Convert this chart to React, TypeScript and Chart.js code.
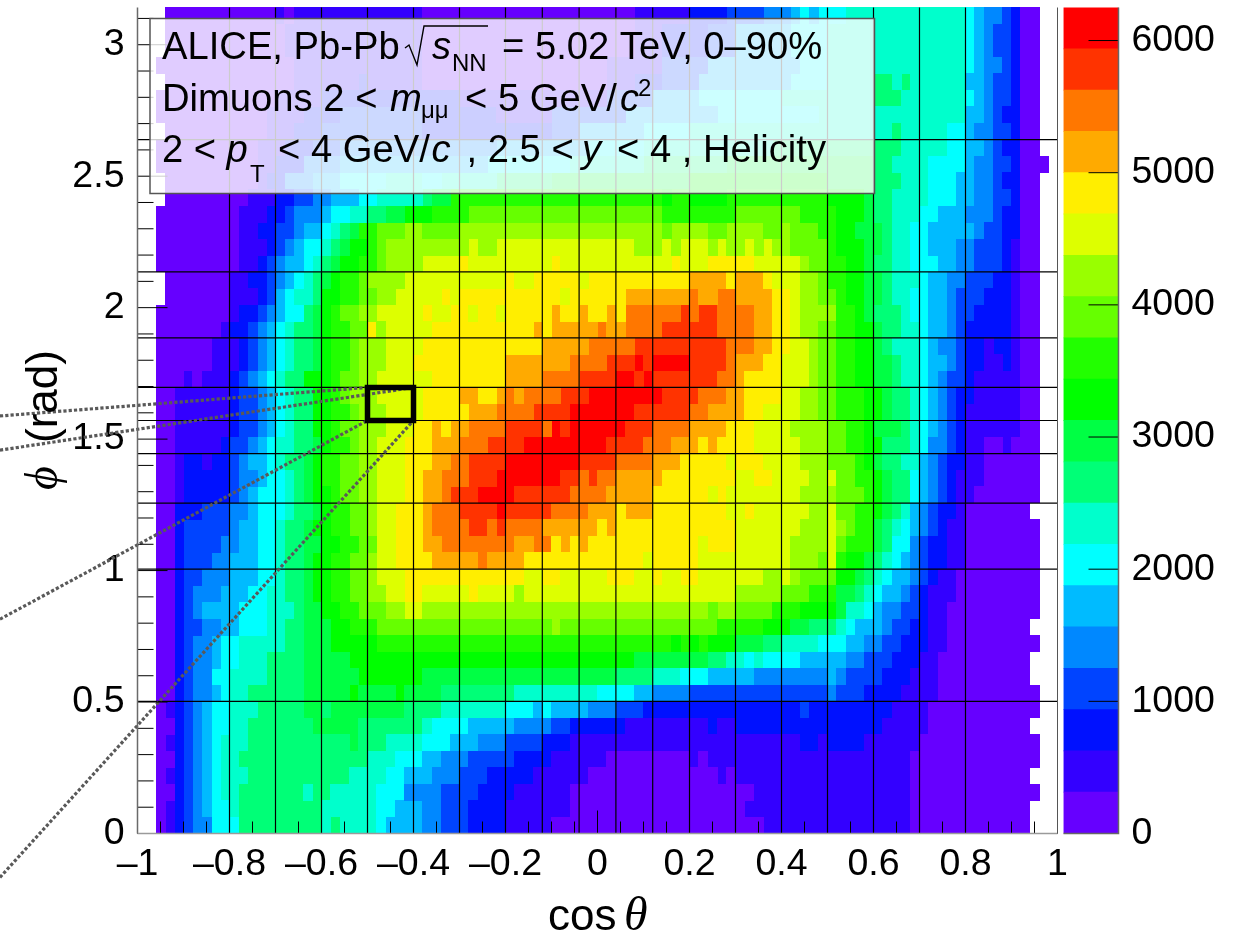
import React, { useEffect, useRef } from "react";
import { Chart, registerables } from "chart.js";

Chart.register(...registerables);

const PHI_MAX = Math.PI;
const COLUMN_COUNT = 100;
const ROW_COUNT = 50;
const Z_MAX = 6250;
const Z_STEP = 312.5;

const LEVEL_COLORS = [
  "#6600ff", "#3300ff", "#0011ff", "#0044ff", "#0088ff",
  "#00bbff", "#00ffff", "#00ffcc", "#00ff77", "#00ff44",
  "#00ff00", "#22ff00", "#66ff00", "#99ff00", "#ddff00",
  "#ffee00", "#ffaa00", "#ff7700", "#ff3300", "#ff0000",
];

const Z_TICKS = [0, 1000, 2000, 3000, 4000, 5000, 6000];
const COS_TICKS = [
  -1, -0.95, -0.9, -0.85, -0.8, -0.75, -0.7, -0.65, -0.6, -0.55, -0.5, -0.45, -0.4, -0.35, -0.3, -0.25, -0.2, -0.15, -0.1, -0.05,
  0, 0.05, 0.1, 0.15, 0.2, 0.25, 0.3, 0.35, 0.4, 0.45, 0.5, 0.55, 0.6, 0.65, 0.7, 0.75, 0.8, 0.85, 0.9, 0.95, 1,
];
const PHI_TICKS = [
  0, 0.1, 0.2, 0.3, 0.4, 0.5, 0.6, 0.7, 0.8, 0.9, 1, 1.1, 1.2, 1.3, 1.4, 1.5,
  1.6, 1.7, 1.8, 1.9, 2, 2.1, 2.2, 2.3, 2.4, 2.5, 2.6, 2.7, 2.8, 2.9, 3, 3.1,
];
const GRID_COS = [-0.8, -0.7, -0.6, -0.5, -0.4, -0.3, -0.2, -0.12, -0.04, 0.04, 0.12, 0.2, 0.3, 0.4, 0.5, 0.6, 0.7, 0.8];
const GRID_PHI = [0.5027, 1.0053, 1.2566, 1.4451, 1.5708, 1.6965, 1.885, 2.1363, 2.6389];
const ROI_COS = [-0.5, -0.4, -0.4, -0.5, -0.5];
const ROI_PHI = [1.5708, 1.5708, 1.6965, 1.6965, 1.5708];
const CONNECTOR_A_COS = [-1.299, -0.5];
const CONNECTOR_A_PHI = [1.588, 1.6965];
const CONNECTOR_B_COS = [-1.299, -0.4];
const CONNECTOR_B_PHI = [1.458, 1.6965];
const CONNECTOR_C_COS = [-1.299, -0.5];
const CONNECTOR_C_PHI = [0.815, 1.5708];
const CONNECTOR_D_COS = [-1.299, -0.4];
const CONNECTOR_D_PHI = [-0.167, 1.5708];

// Each row, top (phi = pi) to bottom: "level:endColumn" runs; "." = empty bin.
const CELL_ROWS = [
  ".:3 0:15 1:16 0:17 1:31 0:54 1:60 2:64 3:68 4:71 5:72 6:73 5:74 6:77 7:90 6:91 5:92 4:94 3:95 2:96 0:98",
  ".:3 0:16 1:31 0:54 1:57 2:62 3:65 5:71 6:75 7:90 6:91 5:92 4:93 3:95 2:96 0:98",
  ".:3 0:16 1:31 0:54 1:57 2:62 3:65 5:71 6:75 7:90 6:91 5:92 4:93 3:95 2:96 0:98",
  ".:2 0:17 1:31 0:51 1:57 3:62 5:72 6:75 7:90 6:91 5:92 4:94 3:95 2:96 0:98",
  ".:3 0:17 1:24 2:25 1:31 0:51 1:54 2:57 3:61 5:71 6:75 7:80 8:82 7:83 8:84 7:90 5:92 4:93 3:95 2:96 0:98",
  ".:2 0:15 1:20 2:35 1:51 3:56 5:61 6:70 7:80 8:83 7:90 6:91 5:92 4:93 3:95 2:96 0:98",
  ".:2 0:14 1:18 2:22 3:31 2:39 1:45 3:53 5:63 6:74 7:90 5:92 4:93 3:94 2:96 0:98",
  ".:3 0:14 1:17 2:20 3:31 2:45 3:48 5:55 6:60 7:82 8:83 7:88 6:90 5:91 4:93 3:95 2:96 0:98",
  ".:2 0:13 1:16 2:19 3:22 4:39 5:49 6:55 7:69 8:83 7:88 6:90 5:92 4:93 3:94 2:96 0:98",
  ".:2 0:13 1:15 2:18 4:22 5:38 6:47 7:55 8:64 9:80 8:82 7:86 6:90 5:91 4:93 3:95 2:96 0:99",
  ".:3 0:13 1:14 2:16 4:19 5:22 6:27 7:31 6:33 7:39 8:45 9:60 10:75 9:80 8:83 7:86 6:89 5:91 4:93 3:94 2:96 0:98",
  ".:3 0:12 1:15 2:17 3:19 4:21 5:24 6:26 7:31 8:32 9:34 11:57 10:58 11:60 10:64 11:75 10:79 9:80 8:82 7:86 6:89 5:91 4:93 3:95 2:96 0:98",
  ".:2 0:11 1:14 2:16 3:17 4:20 5:21 6:23 7:25 8:27 9:29 10:32 11:36 12:57 11:65 12:72 11:76 10:79 9:80 8:82 7:85 6:87 5:90 4:93 3:94 2:96 0:98",
  ".:2 0:11 1:13 2:15 3:17 4:18 5:20 6:21 7:22 8:23 9:24 11:26 12:29 13:31 12:35 13:57 12:58 13:62 12:64 13:68 12:70 13:71 12:74 11:76 10:78 9:81 8:82 7:84 6:86 5:91 4:92 3:94 2:96 0:98",
  ".:2 0:11 1:14 2:15 3:16 4:17 5:18 6:20 7:21 8:22 9:23 10:25 11:26 12:27 13:36 14:37 13:39 14:54 13:57 14:58 13:59 14:62 13:63 14:64 13:66 14:67 13:68 14:69 13:71 12:75 11:76 10:79 9:81 8:82 7:84 6:86 5:89 4:91 3:94 2:95 1:96 0:98",
  ".:2 0:11 1:13 2:14 3:15 4:16 5:18 6:19 7:20 8:21 9:22 10:24 11:26 12:27 13:31 14:35 15:36 14:45 15:46 14:58 15:59 14:62 15:67 14:72 13:73 12:75 11:77 10:79 9:80 8:82 7:84 6:87 5:89 4:91 3:94 2:95 1:96 0:98",
  ".:3 0:10 1:12 2:14 3:15 4:16 5:17 6:18 7:19 8:20 9:21 10:22 11:24 12:25 13:29 14:40 15:41 14:43 15:48 14:49 15:60 16:64 15:65 16:68 15:69 14:72 13:74 12:75 11:77 10:79 9:81 8:82 7:85 6:86 5:88 4:90 3:93 2:95 1:96 0:98",
  ".:3 0:10 1:13 2:14 3:15 5:16 6:17 7:19 8:20 10:22 11:24 12:26 13:28 14:33 15:34 14:35 15:46 14:47 15:53 16:60 17:61 16:63 17:65 16:69 15:71 14:72 13:74 12:76 11:77 10:79 9:81 8:82 7:84 6:86 5:88 4:89 3:92 2:95 1:96 0:98",
  ".:2 0:10 1:11 2:13 3:14 4:15 5:16 6:18 8:19 9:20 10:21 11:22 12:24 13:26 14:31 15:32 14:34 15:36 14:37 15:39 14:40 15:45 16:46 15:48 16:49 15:51 16:52 15:53 17:59 18:60 17:61 18:63 17:67 16:69 15:71 14:72 13:76 11:78 10:79 9:80 8:83 7:84 6:86 5:88 4:89 3:91 2:95 1:96 0:98",
  ".:2 0:9 1:10 2:12 3:13 4:14 5:15 6:16 7:17 8:19 9:20 10:21 11:23 12:25 15:26 13:27 14:32 15:43 16:44 15:45 16:50 17:51 16:53 17:57 18:63 17:67 16:69 15:71 14:72 13:74 12:76 11:78 10:80 9:81 8:83 7:85 6:86 5:88 4:89 3:90 2:95 1:96 0:98",
  ".:2 0:8 1:11 2:12 3:13 4:14 5:15 6:16 7:17 8:19 9:20 10:21 11:23 12:24 13:27 14:31 15:44 16:49 17:54 18:64 17:67 16:69 15:71 14:73 13:74 12:76 11:78 10:80 9:81 8:82 7:85 6:86 5:87 4:89 3:90 2:92 1:93 2:95 1:96 0:98",
  ".:2 0:8 1:11 2:12 3:13 4:14 5:15 6:16 7:17 8:19 9:20 10:21 11:23 12:24 13:27 14:30 15:40 16:47 17:51 18:54 19:55 18:56 19:60 18:64 17:65 16:68 15:70 14:73 13:74 12:76 11:78 10:80 9:82 8:83 7:85 6:86 5:88 4:89 3:90 2:92 1:94 2:95 1:96 0:98",
  ".:2 0:5 1:6 0:7 1:10 2:11 3:12 4:13 5:14 6:15 7:16 8:18 10:21 11:22 12:24 13:26 14:32 15:40 16:44 17:48 18:52 19:54 18:55 19:56 18:63 17:65 16:66 15:70 14:73 13:74 12:76 11:78 10:80 9:82 8:83 7:85 6:86 5:87 4:88 3:90 2:91 1:96 0:98",
  ".:2 0:4 1:10 2:11 3:13 4:14 5:15 6:16 7:17 8:19 10:21 11:22 12:23 13:26 14:31 15:35 16:37 15:39 16:40 17:41 16:42 17:46 18:49 19:57 18:61 17:64 16:66 15:70 14:72 13:74 12:76 11:79 10:81 9:82 8:84 7:85 6:86 5:87 4:88 3:89 2:91 1:96 0:98",
  ".:2 0:4 1:10 2:11 3:13 4:14 5:15 6:16 7:17 8:19 10:21 11:23 12:24 13:27 14:31 15:36 16:39 17:43 18:47 19:54 18:60 17:62 16:66 15:68 14:72 13:74 12:76 11:79 10:81 9:82 8:84 7:85 6:86 5:87 4:88 3:89 2:90 1:96 0:98",
  ".:2 0:4 1:10 2:11 3:13 4:14 5:15 6:16 7:17 8:19 10:21 11:22 12:24 13:27 14:30 15:32 16:33 15:34 16:36 17:40 18:44 17:45 19:46 18:47 19:53 18:56 17:60 16:64 15:67 14:71 13:75 12:77 11:79 10:80 9:83 8:84 7:85 6:86 5:87 4:88 3:89 2:90 1:96 0:98",
  ".:2 0:4 1:9 2:10 3:12 4:13 5:14 6:15 7:17 8:19 9:20 10:21 11:23 12:24 13:26 14:29 15:32 16:35 17:38 18:42 19:51 18:55 17:58 16:61 15:62 16:63 15:67 14:72 13:75 12:77 11:79 10:81 8:84 7:85 6:86 4:88 3:89 2:90 1:92 0:94 1:95 0:98",
  ".:2 0:4 1:5 2:7 1:8 2:10 3:11 4:12 5:14 6:15 7:16 8:18 9:19 10:20 11:22 12:24 13:26 14:29 15:32 16:34 17:36 18:40 19:48 18:52 17:56 16:59 15:64 14:65 15:68 14:72 13:75 12:78 11:79 10:80 9:81 8:83 7:85 5:86 4:87 3:88 2:90 1:92 0:98",
  ".:2 0:4 1:5 2:10 3:11 4:13 5:14 6:16 7:17 8:18 9:19 10:20 11:22 12:24 13:26 14:29 15:31 16:33 17:36 18:39 19:46 18:48 17:49 18:50 17:52 16:57 15:65 14:67 15:69 14:73 13:75 14:76 12:78 11:80 10:81 9:82 8:84 6:85 5:86 4:87 3:88 2:89 1:92 0:98",
  ".:2 0:4 1:5 2:10 3:11 4:12 5:13 6:16 7:17 8:18 9:19 10:21 11:22 12:24 13:26 14:29 15:31 16:33 17:34 18:37 19:41 18:47 17:51 16:56 15:62 14:63 15:64 14:72 13:76 12:79 11:80 10:81 9:82 8:84 6:85 5:86 4:87 3:88 2:89 1:91 0:98",
  ".:2 0:4 2:7 3:10 4:12 5:13 6:16 7:17 8:19 9:20 10:21 11:23 12:25 13:26 14:28 15:31 16:32 17:35 18:39 19:40 18:45 17:49 16:52 15:53 16:56 15:64 14:66 15:67 14:73 13:75 14:76 12:78 11:80 10:81 9:82 8:83 7:84 5:85 4:86 3:87 2:89 1:90 0:97",
  ".:2 0:4 2:5 3:10 4:11 5:13 6:15 7:16 8:18 9:19 10:21 11:23 12:25 13:26 14:28 15:31 16:32 17:36 18:38 17:39 18:40 17:44 16:50 15:51 16:52 15:65 14:72 13:75 14:76 13:77 12:78 11:80 9:81 8:82 7:83 6:84 5:85 4:86 3:87 2:88 1:90 0:98",
  ".:2 0:4 2:5 3:9 4:11 5:13 6:15 7:16 8:18 9:20 10:22 11:24 12:26 14:28 15:31 16:33 17:41 16:43 17:45 15:46 16:47 15:48 16:49 15:61 14:62 15:65 14:71 13:75 14:76 12:77 11:80 9:81 8:82 6:84 4:85 3:86 2:88 1:90 0:98",
  ".:2 0:4 2:5 3:8 4:10 5:13 6:15 7:16 8:18 9:19 10:21 11:23 12:25 13:26 14:28 15:32 16:37 17:38 16:42 15:55 14:56 15:61 14:71 13:74 12:75 14:76 11:77 10:79 9:80 8:81 7:82 6:83 5:84 4:85 3:86 2:88 1:90 0:98",
  ".:2 0:4 2:5 3:7 4:10 5:13 6:15 7:16 8:18 9:19 10:21 11:23 12:25 13:26 14:29 15:42 14:44 15:46 14:51 15:54 14:56 15:57 14:59 15:61 14:68 13:70 14:71 13:72 12:76 10:78 9:79 8:80 7:81 6:82 5:84 4:85 3:86 2:87 1:89 0:98",
  ".:2 0:4 2:5 3:6 4:9 5:12 6:14 7:16 8:18 9:19 10:21 11:23 12:25 13:27 14:29 15:31 14:36 15:37 14:41 13:42 14:65 13:70 12:73 11:76 9:78 8:79 7:80 6:81 5:83 4:84 3:85 2:86 1:89 0:98",
  ".:2 0:4 2:5 3:6 4:7 5:11 6:14 7:17 8:18 9:20 10:22 11:24 12:27 13:29 14:31 13:62 12:63 13:65 12:69 11:72 10:76 9:77 7:79 6:80 5:81 4:83 3:85 2:86 1:88 0:98",
  ".:2 0:4 2:5 3:7 4:9 5:11 6:14 7:16 8:18 9:21 10:23 11:26 12:45 13:46 12:63 11:68 10:71 9:73 8:76 7:77 6:78 5:81 4:82 3:84 2:86 1:88 0:97",
  ".:2 0:4 2:5 3:6 4:8 5:9 6:11 7:16 8:18 9:21 10:26 11:58 10:59 11:60 10:61 11:62 10:65 9:68 8:70 7:74 6:77 5:79 4:81 3:83 2:86 1:88 0:98",
  ".:2 0:4 2:5 3:6 4:8 5:9 6:11 7:14 8:18 9:23 10:54 9:62 8:64 7:66 6:67 7:68 6:72 5:77 4:79 3:82 2:85 1:87 0:97",
  ".:2 0:4 2:5 3:6 4:8 6:10 7:14 8:18 9:24 10:31 9:52 8:56 7:59 6:62 5:67 4:75 5:76 4:77 3:81 2:84 1:87 0:97",
  ".:2 0:4 2:5 3:6 4:8 5:9 6:10 7:12 8:18 9:23 10:24 9:28 10:29 9:33 8:41 7:50 6:54 5:56 4:60 3:75 4:76 3:79 2:83 1:87 0:98",
  ".:2 0:3 1:4 2:5 3:6 4:7 5:8 6:10 7:13 8:18 9:20 8:21 9:29 8:33 7:40 6:43 5:44 6:45 5:49 4:52 3:55 2:72 3:73 2:82 1:86 0:98",
  ".:2 0:4 2:5 3:6 4:7 5:8 6:10 7:12 8:19 9:24 8:31 7:32 6:36 5:41 4:45 3:47 2:53 1:62 2:63 1:65 2:81 1:86 0:97",
  ".:2 0:3 1:4 2:5 3:6 4:7 5:8 6:9 7:12 8:23 9:24 8:27 7:31 6:34 5:37 4:40 3:44 2:47 1:72 2:74 1:75 2:79 1:85 0:98",
  ".:2 0:4 2:5 3:6 4:7 5:8 6:9 7:11 8:25 7:28 6:31 5:33 4:36 3:41 2:45 1:51 0:60 1:61 0:62 1:84 0:98",
  ".:2 0:3 1:4 2:5 3:6 4:7 5:8 6:9 7:12 8:23 7:27 6:29 5:32 4:35 3:38 2:43 1:49 0:63 1:64 0:65 1:84 0:97",
  ".:2 0:4 2:5 3:6 4:7 5:8 6:9 7:11 8:18 7:19 8:21 7:26 6:29 4:33 3:37 2:41 1:47 0:67 1:84 0:98",
  ".:2 0:3 1:4 2:5 3:6 4:7 5:8 6:10 7:11 8:20 7:26 6:28 5:31 4:33 3:36 2:40 1:47 0:66 1:84 0:97",
  ".:2 0:3 1:4 2:5 3:6 4:8 6:11 8:20 7:21 8:22 7:26 6:27 5:31 4:33 3:36 2:40 1:45 0:68 1:84 0:97",
];

const SANS = '"Liberation Sans"';
const SERIF = '"Liberation Serif"';
const TICK_FONT = { family: "Liberation Sans", size: 37.5 };
const BOX_FONT = `38.2px ${SANS}`;
const BOX_ITALIC = `italic 38.2px ${SANS}`;

type Run = { text: string; x: number; y: number; font: string };
const TEXT_RUNS: Run[] = [
  { text: "ALICE, Pb-Pb", x: 162, y: 59, font: BOX_FONT },
  { text: "s", x: 432, y: 59, font: BOX_ITALIC },
  { text: "NN", x: 452, y: 71, font: `24px ${SANS}` },
  { text: "= 5.02 TeV, 0–90%", x: 502, y: 59, font: BOX_FONT },
  { text: "Dimuons 2 <", x: 162, y: 110.5, font: BOX_FONT },
  { text: "m", x: 390, y: 110.5, font: BOX_ITALIC },
  { text: "μμ", x: 421, y: 118, font: `24px ${SANS}` },
  { text: "< 5 GeV/", x: 465, y: 110.5, font: BOX_FONT },
  { text: "c", x: 620, y: 110.5, font: BOX_ITALIC },
  { text: "2", x: 638, y: 96, font: `24px ${SANS}` },
  { text: "2 <", x: 162, y: 161.5, font: BOX_FONT },
  { text: "p", x: 226.5, y: 161.5, font: BOX_ITALIC },
  { text: "T", x: 250, y: 181.5, font: `24px ${SANS}` },
  { text: "< 4 GeV/", x: 278, y: 161.5, font: BOX_FONT },
  { text: "c", x: 431.5, y: 161.5, font: BOX_ITALIC },
  { text: ", 2.5 <", x: 466.5, y: 161.5, font: BOX_FONT },
  { text: "y", x: 582, y: 161.5, font: BOX_ITALIC },
  { text: "< 4 , Helicity", x: 617, y: 161.5, font: BOX_FONT },
  { text: "cos", x: 548, y: 930, font: `44px ${SANS}` },
  { text: "θ", x: 624, y: 930, font: `italic 48px ${SERIF}` },
];

function decodeRow(row: string): number[] {
  const cells = new Array(COLUMN_COUNT).fill(-1);
  let cursor = 0;
  for (const token of row.split(" ")) {
    const [lev, end] = token.split(":");
    const level = lev === "." ? -1 : Number(lev);
    for (; cursor < Number(end); cursor++) cells[cursor] = level;
  }
  return cells;
}

function sprite(color: string): HTMLCanvasElement {
  const c = document.createElement("canvas");
  c.width = 10;
  c.height = 17;
  const g = c.getContext("2d")!;
  g.fillStyle = color;
  g.fillRect(0, 0, 10, 17);
  return c;
}

function cellDatasets() {
  const points: { x: number; y: number }[][] = LEVEL_COLORS.map(() => []);
  CELL_ROWS.forEach((row, k) => {
    decodeRow(row).forEach((level, c) => {
      if (level < 0) return;
      points[level].push({
        x: -1 + (2 * (c + 0.5)) / COLUMN_COUNT,
        y: ((ROW_COUNT - 1 - k + 0.5) * PHI_MAX) / ROW_COUNT,
      });
    });
  });
  return points.map((data, level) => ({
    label: `level ${level}`,
    data,
    showLine: false,
    pointStyle: sprite(LEVEL_COLORS[level]),
    pointRadius: 1,
    pointHoverRadius: 1,
    order: 20,
    clip: false,
  }));
}

function lineDataset(label: string, xs: number[], ys: number[], extra: object) {
  return {
    label,
    data: xs.map((x, i) => ({ x, y: ys[i] })),
    showLine: true,
    pointRadius: 0,
    tension: 0,
    fill: false,
    clip: false,
    ...extra,
  };
}

const isMajor = (v: number, perUnit: number) => Math.abs(v * perUnit - Math.round(v * perUnit)) < 1e-6;
const signed = (v: number) => (v < 0 ? "–" + String(Math.abs(Math.round(v * 10) / 10)) : String(Math.round(v * 10) / 10));
const asTicks = (values: number[]) => (s: any) => { s.ticks = values.map((value) => ({ value })); };

const overlay = {
  id: "overlay",
  afterDraw(chart: any) {
    const { ctx, chartArea: a, scales } = chart;
    const xs = scales.x;
    const ys = scales.y;
    ctx.save();
    // inward tick marks
    ctx.strokeStyle = "#000";
    ctx.lineWidth = 1;
    ctx.beginPath();
    for (const t of xs.ticks) {
      const p = xs.getPixelForValue(t.value);
      ctx.moveTo(p, a.bottom);
      ctx.lineTo(p, a.bottom - (isMajor(t.value, 5) ? 23 : 12));
    }
    for (const t of ys.ticks) {
      const p = ys.getPixelForValue(t.value);
      ctx.moveTo(a.left, p);
      ctx.lineTo(a.left + (isMajor(t.value, 2) ? 30 : 16), p);
    }
    ctx.stroke();
    // frame
    ctx.lineWidth = 1.5;
    ctx.strokeStyle = "#6a6a6a";
    ctx.beginPath();
    ctx.moveTo(a.left, a.top);
    ctx.lineTo(a.left, a.bottom);
    ctx.stroke();
    ctx.strokeStyle = "#9a9a9a";
    ctx.beginPath();
    ctx.moveTo(a.left, a.bottom);
    ctx.lineTo(a.right, a.bottom);
    ctx.stroke();
    ctx.lineWidth = 1;
    ctx.strokeStyle = "#555";
    ctx.beginPath();
    ctx.moveTo(a.right, a.top);
    ctx.lineTo(a.right, a.bottom);
    ctx.stroke();
    // legend box
    ctx.fillStyle = "rgba(255,255,255,0.8)";
    ctx.fillRect(150, 18.5, 724.5, 175);
    ctx.strokeStyle = "#555";
    ctx.lineWidth = 1.5;
    ctx.strokeRect(150, 18.5, 724.5, 175);
    ctx.fillStyle = "#000";
    ctx.textBaseline = "alphabetic";
    ctx.textAlign = "left";
    for (const r of TEXT_RUNS) {
      ctx.font = r.font;
      ctx.fillText(r.text, r.x, r.y);
    }
    // radical sign of sqrt(s_NN)
    ctx.lineWidth = 1.4;
    ctx.strokeStyle = "#000";
    ctx.beginPath();
    ctx.moveTo(405, 48);
    ctx.lineTo(409, 45);
    ctx.lineTo(417, 65);
    ctx.lineTo(424, 26);
    ctx.lineTo(488, 26);
    ctx.stroke();
    // rotated y title
    ctx.fillStyle = "#000";
    ctx.save();
    ctx.translate(57, 443);
    ctx.rotate(-Math.PI / 2);
    ctx.font = `44px ${SANS}`;
    ctx.fillText("(rad)", 0, 0);
    ctx.restore();
    ctx.save();
    ctx.translate(57, 490);
    ctx.rotate(-Math.PI / 2);
    ctx.font = `italic 46px ${SERIF}`;
    ctx.fillText("ϕ", 0, 0);
    ctx.restore();
    ctx.restore();
  },
};

const barOverlay = {
  id: "barOverlay",
  afterDraw(chart: any) {
    const { ctx, chartArea: a, scales } = chart;
    ctx.save();
    ctx.strokeStyle = "#000";
    ctx.lineWidth = 1;
    ctx.beginPath();
    for (const t of scales.y.ticks) {
      const p = scales.y.getPixelForValue(t.value);
      ctx.moveTo(a.right - 30, p);
      ctx.lineTo(a.right, p);
    }
    ctx.stroke();
    ctx.strokeStyle = "#666";
    ctx.lineWidth = 1.5;
    ctx.beginPath();
    ctx.moveTo(a.right, a.top);
    ctx.lineTo(a.right, a.bottom);
    ctx.lineTo(a.left, a.bottom);
    ctx.stroke();
    ctx.restore();
  },
};

export default function App() {
  const mainRef = useRef<HTMLCanvasElement>(null);
  const barRef = useRef<HTMLCanvasElement>(null);

  useEffect(() => {
    const main = new Chart(mainRef.current!, {
      type: "scatter",
      data: {
        datasets: [
          lineDataset("ROI", ROI_COS, ROI_PHI, { borderColor: "#000", borderWidth: 5.5, borderJoinStyle: "miter", borderCapStyle: "square", order: 1 }),
          ...[
            [CONNECTOR_A_COS, CONNECTOR_A_PHI],
            [CONNECTOR_B_COS, CONNECTOR_B_PHI],
            [CONNECTOR_C_COS, CONNECTOR_C_PHI],
            [CONNECTOR_D_COS, CONNECTOR_D_PHI],
          ].map(([cx, cy], i) =>
            lineDataset(`connector ${i}`, cx, cy, { borderColor: "#595959", borderWidth: 3.2, borderDash: [3.2, 2.1], order: 2 })
          ),
          ...GRID_COS.map((v) => lineDataset(`cos ${v}`, [v, v], [0, PHI_MAX], { borderColor: "#000", borderWidth: 1.2, order: 3 })),
          ...GRID_PHI.map((v) => lineDataset(`phi ${v}`, [-1, 1], [v, v], { borderColor: "#000", borderWidth: 1.2, order: 3 })),
          ...cellDatasets(),
        ] as any,
      },
      options: {
        animation: false,
        responsive: false,
        devicePixelRatio: 1,
        events: [],
        layout: { padding: { left: 0, top: 7.5, right: 182.5, bottom: 43.5 } },
        plugins: { legend: { display: false }, tooltip: { enabled: false } },
        scales: {
          x: {
            type: "linear",
            min: -1,
            max: 1,
            grid: { display: false, drawTicks: false },
            border: { display: false },
            afterBuildTicks: asTicks(COS_TICKS),
            afterFit: (s: any) => { s.height = 60; s.paddingLeft = 0; s.paddingRight = 0; },
            ticks: {
              autoSkip: false,
              maxRotation: 0,
              minRotation: 0,
              padding: 9,
              color: "#000",
              font: TICK_FONT,
              callback: (v: any) => (isMajor(Number(v), 5) ? signed(Number(v)) : ""),
            },
          },
          y: {
            type: "linear",
            min: 0,
            max: PHI_MAX,
            grid: { display: false, drawTicks: false },
            border: { display: false },
            afterBuildTicks: asTicks(PHI_TICKS),
            afterFit: (s: any) => { s.width = 137.5; s.paddingTop = 0; s.paddingBottom = 0; },
            ticks: {
              autoSkip: false,
              padding: 13,
              color: "#000",
              font: TICK_FONT,
              callback: (v: any) => (isMajor(Number(v), 2) ? String(Math.round(Number(v) * 2) / 2) : ""),
            },
          },
        },
      } as any,
      plugins: [overlay],
    });

    const bar = new Chart(barRef.current!, {
      type: "bar",
      data: {
        labels: ["counts"],
        datasets: LEVEL_COLORS.map((color, i) => ({
          label: `level ${i}`,
          data: [Z_STEP],
          backgroundColor: color,
          borderWidth: 0,
          barPercentage: 1,
          categoryPercentage: 1,
          inflateAmount: 0.4,
        })),
      },
      options: {
        animation: false,
        responsive: false,
        devicePixelRatio: 1,
        events: [],
        layout: { padding: { left: 3.5, top: 7.5, right: 0, bottom: 103.5 } },
        plugins: { legend: { display: false }, tooltip: { enabled: false } },
        scales: {
          x: { stacked: true, display: false },
          y: {
            stacked: true,
            position: "right",
            min: 0,
            max: Z_MAX,
            grid: { display: false, drawTicks: false },
            border: { display: false },
            afterBuildTicks: asTicks(Z_TICKS),
            afterFit: (s: any) => { s.width = 121.5; s.paddingTop = 0; s.paddingBottom = 0; },
            ticks: {
              padding: 13,
              color: "#000",
              font: TICK_FONT,
              callback: (v: any) => String(v),
            },
          },
        },
      } as any,
      plugins: [barOverlay],
    });

    return () => {
      main.destroy();
      bar.destroy();
    };
  }, []);

  return (
    <>
      <canvas ref={mainRef} width={1240} height={937} style={{ position: "absolute", left: 0, top: 0, display: "block" }} />
      <canvas ref={barRef} width={180} height={937} style={{ position: "absolute", left: 1060, top: 0, display: "block" }} />
    </>
  );
}
